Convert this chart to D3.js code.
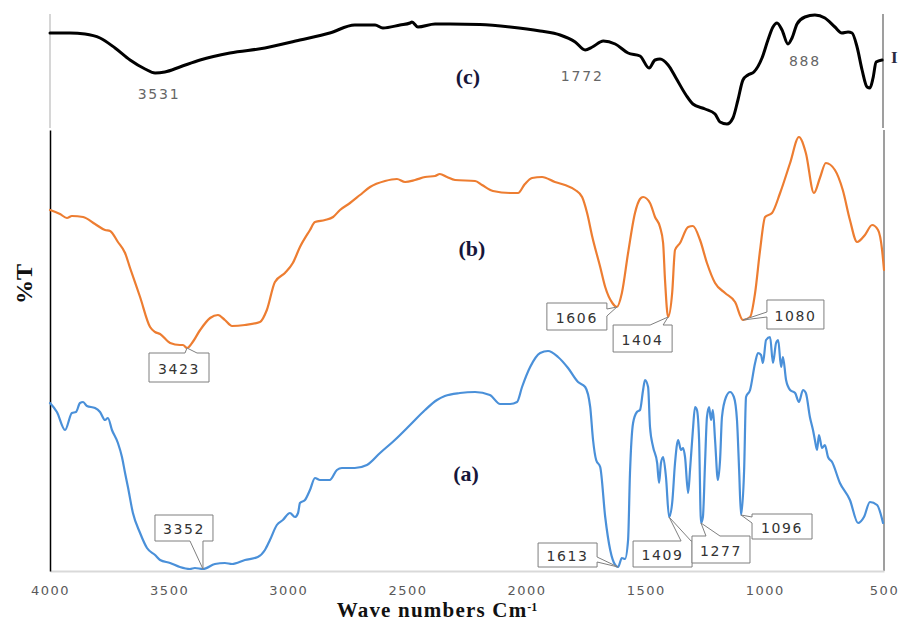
<!DOCTYPE html>
<html><head><meta charset="utf-8">
<script src="https://cdn.jsdelivr.net/npm/d3@7"></script>
<style>
html,body{margin:0;padding:0;background:#fff;}
svg{display:block;}
</style></head>
<body>
<script>
// ---------- DATA ----------
const xTicks = [4000, 3500, 3000, 2500, 2000, 1500, 1000, 500];

// (c) spectrum: [wavenumber, %T]
const spectrumC = [
 [4000,76],[3916,76],[3853,75.2],[3790,72],[3727,64],[3664,54.4],[3601,47.2],[3559,44],[3518,44.8],
 [3455,48.8],[3370,54.4],[3245,60],[3098,64],[2951,70.4],[2826,76],[2721,82.4],[2636,82.4],[2603,80],
 [2531,82.4],[2489,84],[2481,84.8],[2456,80.8],[2384,83.2],[2321,83.2],[2196,82.8],[2069,80.8],
 [1943,77.6],[1859,74.4],[1796,68.8],[1754,62.4],[1724,64.8],[1678,69.6],[1628,67.2],[1574,60],
 [1524,57.6],[1486,48],[1461,54.4],[1440,55.2],[1406,50.4],[1373,40],[1331,26.4],[1302,19.2],
 [1251,15.2],[1209,11.2],[1188,4.8],[1159,3.2],[1134,8],[1113,22.4],[1092,38.4],[1071,42.4],
 [1046,44.8],[1012,56],[987,70.4],[966,80.8],[949,84],[928,78.4],[903,67.2],[886,72],[865,83.2],
 [832,88.8],[790,90.4],[748,88],[706,80.8],[677,76],[651,76.8],[634,76],[613,64.8],[592,46.4],
 [571,32.8],[559,32],[546,40],[533,52.8],[508,54.4]
];

// (b) spectrum
const spectrumB = [
 [4000,72.2],[3958,71.4],[3929,70.6],[3908,71],[3861,70.8],[3811,69.4],[3769,68.2],[3748,68],
 [3715,65.8],[3685,63.6],[3664,60.6],[3622,54.8],[3580,48.8],[3559,47.8],[3538,47.4],[3496,45.6],
 [3455,45.2],[3442,45.2],[3425,44.6],[3404,45.6],[3370,48.2],[3328,50.6],[3295,51.2],[3266,50.2],
 [3236,49],[3182,49.2],[3119,49.8],[3090,52.2],[3056,57.8],[3014,59.6],[2981,61.6],[2951,64.8],
 [2909,68.2],[2888,69.8],[2846,70.2],[2812,70.8],[2783,72.2],[2741,73.6],[2699,75.2],[2657,76.8],
 [2594,78],[2544,78.4],[2510,77.8],[2468,78.2],[2426,78.8],[2384,79],[2364,79.4],[2334,78.8],
 [2300,78.2],[2216,78],[2187,77.2],[2141,76],[2069,75.6],[2036,75.6],[2007,77.4],[1977,78.6],
 [1935,78.8],[1881,77.8],[1839,77.2],[1796,76.2],[1767,74.8],[1746,71.6],[1724,66.8],[1691,60.8],
 [1670,56.8],[1640,53.6],[1621,52.8],[1600,55.6],[1574,63.6],[1545,71.6],[1524,74.4],[1511,74.8],
 [1482,73.6],[1461,70.8],[1440,68.8],[1427,65.6],[1419,58.2],[1406,50.8],[1389,55.6],[1377,64.2],
 [1356,65.6],[1322,68.8],[1302,69],[1272,66.2],[1243,61.6],[1209,57.6],[1167,55.6],[1125,53.8],
 [1092,50.2],[1062,50.8],[1041,55.6],[1020,64.2],[999,70.8],[970,71.6],[936,75.6],[894,81.6],
 [857,86.8],[828,83.6],[794,75.6],[769,78.6],[744,81.6],[706,80.2],[673,76.2],[643,70.2],
 [613,65.8],[580,67.2],[550,69.2],[525,68.2],[508,64.2],[500,60.2]
];

// (a) spectrum
const spectrumA = [
 [4000,33.6],[3971,31.8],[3937,28.2],[3908,31.6],[3891,31.8],[3874,33.6],[3861,33.8],[3845,33],
 [3811,32.6],[3790,31.8],[3769,30.2],[3757,30.6],[3740,28.2],[3715,25.6],[3698,22.8],[3685,19.6],
 [3673,16.8],[3652,11.6],[3622,7.6],[3593,4.6],[3559,3.2],[3538,2.2],[3496,1.6],[3455,0.8],
 [3413,0.4],[3392,0.6],[3358,0.4],[3308,1.4],[3266,1.6],[3236,1.4],[3182,2.2],[3128,2.8],
 [3098,4.2],[3077,6.2],[3048,9.2],[3023,10.2],[2993,11.6],[2972,10.8],[2959,11.6],[2951,13.6],
 [2930,14.2],[2909,16.2],[2888,18.6],[2867,18.2],[2826,18.2],[2796,20.2],[2775,20.6],[2721,20.6],
 [2670,21.2],[2615,23.6],[2553,26.2],[2489,29.2],[2426,32.2],[2376,34.2],[2343,35],[2280,35.6],
 [2216,35.8],[2154,35.2],[2111,33.4],[2069,33.4],[2040,33.8],[2019,36.8],[1985,40.8],[1943,43.6],
 [1910,44],[1868,42.8],[1826,40.6],[1784,37.8],[1754,36.8],[1733,32.8],[1721,26.2],[1708,22.2],
 [1691,20.8],[1670,10.8],[1649,4.2],[1628,1.2],[1616,0.8],[1600,2.6],[1587,2.4],[1574,6.2],
 [1566,19.6],[1553,29.6],[1537,31.8],[1524,32.2],[1511,36.2],[1503,38.2],[1490,36.8],[1482,28.8],
 [1469,24.8],[1452,21.6],[1444,17.6],[1436,21.6],[1427,22.8],[1415,18.8],[1402,10.8],[1389,13.6],
 [1377,21.6],[1364,26.2],[1352,24.2],[1343,24.6],[1335,22.8],[1322,15.6],[1314,20.2],[1302,28.2],
 [1293,32.8],[1285,32.2],[1276,26.2],[1268,9.6],[1260,10.8],[1251,21.6],[1243,30.8],[1234,32.8],
 [1226,30.2],[1218,32.2],[1209,26.2],[1197,18.2],[1188,22.2],[1180,30.8],[1163,34.8],[1146,35.8],
 [1130,34.8],[1117,30.2],[1108,20.2],[1100,11.2],[1087,20.2],[1079,34.8],[1062,36.2],[1041,41.6],
 [1029,43.6],[1016,43.2],[1008,41.6],[995,46.2],[978,46.8],[966,41.6],[953,45.6],[944,46.2],
 [932,40.8],[924,42.8],[911,38.2],[894,36.2],[873,35.6],[857,33.8],[840,36.2],[828,35.6],
 [811,30.8],[798,28.2],[790,26.2],[781,24.2],[773,27.2],[760,24.6],[748,25.2],[735,22.8],
 [718,21.8],[685,17.6],[643,14.2],[609,9.6],[584,10.8],[559,13.8],[529,13.2],[504,9.6]
];

// peak annotations
const boxedCallouts = [
 {series:"b", wn:3425, label:"3423"},
 {series:"b", wn:1621, label:"1606"},
 {series:"b", wn:1406, label:"1404"},
 {series:"b", wn:1092, label:"1080"},
 {series:"a", wn:3358, label:"3352"},
 {series:"a", wn:1616, label:"1613"},
 {series:"a", wn:1402, label:"1409"},
 {series:"a", wn:1268, label:"1277"},
 {series:"a", wn:1100, label:"1096"}
];
const plainLabels = [
 {series:"c", wn:3559, label:"3531"},
 {series:"c", wn:1754, label:"1772"},
 {series:"c", wn:903, label:"888"}
];
const panelLabels = ["(c)", "(b)", "(a)"];

// ---------- LAYOUT / STYLE ----------
const W = 900, H = 622;
const calloutLayout = {
 "3423":{dx:-38,dy:5,w:60,h:29,side:"top",b1:-2,b2:10},
 "3352":{dx:-48,dy:-54,w:58,h:26,side:"bottom",b1:-13,b2:0},
 "1606":{dx:-70,dy:-4,w:60,h:27,side:"right",b1:2,b2:9},
 "1404":{dx:-55,dy:8,w:59,h:27,side:"top",b1:-18,b2:-5},
 "1080":{dx:24,dy:-20,w:57,h:29,side:"left",b1:-8,b2:-3},
 "1613":{dx:-80,dy:-24,w:59,h:24,side:"right",b1:-10,b2:-5},
 "1409":{dx:-36,dy:24,w:59,h:26,side:"top",b1:12,b2:22},
 "1277":{dx:-9,dy:13,w:58,h:27,side:"top",b1:5,b2:19},
 "1096":{dx:11,dy:-1,w:60,h:25,side:"left",b1:2,b2:8}
};
const plainLayout = {"3531":{dx:4,dy:21},"1772":{dx:-3,dy:26},"888":{dx:17,dy:17}};
const panelPos = {"(c)":[468,76],"(b)":[472,248],"(a)":[466,473]};

const x = d3.scaleLinear().domain([4000,500]).range([50,884]);
const yMain = d3.scaleLinear().domain([0,88.2]).range([571,130]);
const yTop = d3.scaleLinear().domain([0,91.2]).range([128,14]);

const seriesDef = {
 c:{data:spectrumC, y:yTop, color:"#000000", width:3},
 b:{data:spectrumB, y:yMain, color:"#ED7D31", width:2.2},
 a:{data:spectrumA, y:yMain, color:"#4A90D9", width:2.2}
};

const svg = d3.select("body").append("svg").attr("width",W).attr("height",H);

// frame lines of the top panel
svg.append("line").attr("x1",50).attr("x2",50).attr("y1",14).attr("y2",128)
  .attr("stroke","#c8c8c8").attr("stroke-width",1.5);
svg.append("line").attr("x1",883).attr("x2",883).attr("y1",14).attr("y2",128)
  .attr("stroke","#7f7f7f").attr("stroke-width",1.5);
// right frame of main panel
svg.append("line").attr("x1",884).attr("x2",884).attr("y1",130).attr("y2",571)
  .attr("stroke","#7f7f7f").attr("stroke-width",1.5);

// x axis
const xAxis = svg.append("g").attr("transform","translate(0,571)")
  .call(d3.axisBottom(x).tickValues(xTicks).tickSize(0).tickPadding(15).tickFormat(d3.format("d")));
xAxis.select(".domain").attr("stroke","#d9d9d9").attr("stroke-width",2);
xAxis.selectAll("text").attr("fill","#595959").attr("font-family","DejaVu Sans, Verdana, sans-serif")
  .attr("font-size",13).attr("letter-spacing","1.5px");

// y axis (no ticks)
const yAxis = svg.append("g").attr("transform","translate(50,0)")
  .call(d3.axisLeft(yMain).tickValues([]).tickSizeOuter(0));
yAxis.select(".domain").attr("stroke","#000").attr("stroke-width",1.5);

// spectra
Object.keys(seriesDef).forEach(k=>{
  const s = seriesDef[k];
  const line = d3.line().x(d=>x(d[0])).y(d=>s.y(d[1])).curve(d3.curveMonotoneX);
  svg.append("path").datum(s.data).attr("d",line).attr("fill","none")
    .attr("stroke",s.color).attr("stroke-width",s.width)
    .attr("stroke-linejoin","round").attr("stroke-linecap","round");
});

function anchorOf(c){
  const s = seriesDef[c.series];
  const p = s.data.reduce((a,b)=>Math.abs(b[0]-c.wn)<Math.abs(a[0]-c.wn)?b:a);
  return [x(p[0]), s.y(p[1])];
}

// plain labels on (c)
plainLabels.forEach(c=>{
  const [ax,ay] = anchorOf(c); const L = plainLayout[c.label];
  svg.append("text").attr("x",ax+L.dx).attr("y",ay+L.dy).attr("text-anchor","middle")
    .attr("dominant-baseline","central").attr("fill","#666")
    .attr("font-family","DejaVu Sans, Verdana, sans-serif").attr("font-size",14)
    .attr("letter-spacing","1.8px").text(c.label);
});

// boxed callouts
boxedCallouts.forEach(c=>{
  const [ax,ay] = anchorOf(c); const L = calloutLayout[c.label];
  const bx = ax+L.dx, by = ay+L.dy, bw = L.w, bh = L.h;
  const p = d3.path();
  p.moveTo(bx,by);
  if(L.side==="top"){ p.lineTo(ax+L.b1,by); p.lineTo(ax,ay); p.lineTo(ax+L.b2,by); }
  p.lineTo(bx+bw,by);
  if(L.side==="right"){ p.lineTo(bx+bw,ay+L.b1); p.lineTo(ax,ay); p.lineTo(bx+bw,ay+L.b2); }
  p.lineTo(bx+bw,by+bh);
  if(L.side==="bottom"){ p.lineTo(ax+L.b2,by+bh); p.lineTo(ax,ay); p.lineTo(ax+L.b1,by+bh); }
  p.lineTo(bx,by+bh);
  if(L.side==="left"){ p.lineTo(bx,ay+L.b2); p.lineTo(ax,ay); p.lineTo(bx,ay+L.b1); }
  p.closePath();
  svg.append("path").attr("d",p.toString()).attr("fill","#fff")
    .attr("stroke","#7f7f7f").attr("stroke-width",1);
  svg.append("text").attr("x",bx+bw/2).attr("y",by+bh/2+1).attr("text-anchor","middle")
    .attr("dominant-baseline","central").attr("fill","#333")
    .attr("font-family","DejaVu Sans, Verdana, sans-serif").attr("font-size",14)
    .attr("letter-spacing","1.6px").text(c.label);
});

// panel labels
panelLabels.forEach(t=>{
  const [px,py] = panelPos[t];
  svg.append("text").attr("x",px).attr("y",py).attr("text-anchor","middle")
    .attr("dominant-baseline","central").attr("fill","#16163a")
    .attr("font-family","Liberation Serif, Times New Roman, serif").attr("font-weight","bold")
    .attr("font-size",22).text(t);
});

// cut-off mark at the right edge of panel (c)
svg.append("text").attr("x",891).attr("y",63).attr("fill","#2a2a40")
  .attr("font-family","Liberation Serif, serif").attr("font-weight","bold")
  .attr("font-size",17).text("I");

// axis titles
const xt = svg.append("text").attr("x",437).attr("y",617).attr("text-anchor","middle")
  .attr("font-family","Liberation Serif, Times New Roman, serif").attr("font-weight","bold")
  .attr("font-size",21).attr("letter-spacing","1.2px").attr("fill","#111");
xt.append("tspan").text("Wave numbers Cm");
xt.append("tspan").attr("dy",-6).attr("font-size",12).attr("letter-spacing","0px").text("-1");

svg.append("text").attr("transform","translate(32,284) rotate(-90)").attr("text-anchor","middle")
  .attr("font-family","Liberation Serif, Times New Roman, serif").attr("font-weight","bold")
  .attr("font-size",24).attr("fill","#111").text("%T");
</script>
</body></html>
